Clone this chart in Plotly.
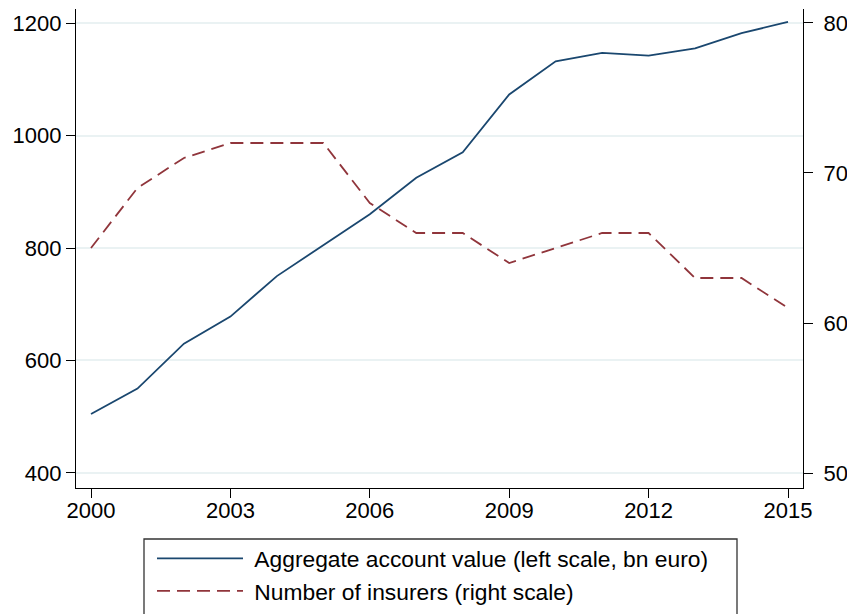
import plotly.graph_objects as go

years = list(range(2000, 2016))
account_value = [505, 550, 630, 678, 750, 805, 860, 925, 970, 1073, 1132, 1147, 1142, 1155, 1182, 1202]
n_insurers = [65, 69, 71, 72, 72, 72, 68, 66, 66, 64, 65, 66, 66, 63, 63, 61]

name_value = "Aggregate account value (left scale, bn euro)"
name_insurers = "Number of insurers (right scale)"

left_ticks = [400, 600, 800, 1000, 1200]
right_ticks = [50, 60, 70, 80]
x_ticks = [2000, 2003, 2006, 2009, 2012, 2015]

W, H = 847, 614
ML, MR, MT, MB = 76, 44, 9, 126
pw = W - ML - MR
ph = H - MT - MB

BLUE = "#1a476f"
RED = "#90353b"
FONT = "Liberation Sans, Arial, Helvetica, sans-serif"

fig = go.Figure()
fig.add_trace(go.Scatter(x=years, y=account_value, mode="lines", name="\u00a0" + name_value,
                         line=dict(color=BLUE, width=1.8), yaxis="y"))
fig.add_trace(go.Scatter(x=years, y=n_insurers, mode="lines", name="\u00a0" + name_insurers,
                         line=dict(color=RED, width=1.8, dash="13px,7px"), yaxis="y2"))

def px_x(p):
    return (p - ML) / pw

def px_y(p):
    return (H - MB - p) / ph

fig.update_layout(
    width=W, height=H,
    margin=dict(l=ML, r=MR, t=MT, b=MB, pad=0, autoexpand=False),
    paper_bgcolor="white", plot_bgcolor="white",
    font=dict(family=FONT, size=22, color="black"),
    showlegend=True,
    legend=dict(
        x=px_x(152), y=px_y(537), xanchor="left", yanchor="top",
        bgcolor="rgba(0,0,0,0)", borderwidth=0,
        font=dict(size=22.8, family=FONT, color="black"),
        itemwidth=86, tracegroupgap=0, traceorder="normal",
    ),
    xaxis=dict(
        range=[2000 - 15 / 46.47, 2015 + 15 / 46.47],
        tickmode="array", tickvals=x_ticks, ticktext=[str(v) for v in x_ticks],
        ticks="outside", ticklen=9, tickwidth=1.2, tickcolor="black",
        ticklabelstandoff=-7,
        showline=True, linecolor="black", linewidth=1.3,
        showgrid=False, zeroline=False,
        tickfont=dict(size=22),
    ),
    yaxis=dict(
        range=[400 - 15 / 0.5617, 1200 + 14 / 0.5617],
        tickmode="array", tickvals=left_ticks, ticktext=[str(v) for v in left_ticks],
        ticks="outside", ticklen=9, tickwidth=1.2, tickcolor="black",
        showline=True, linecolor="black", linewidth=1.3,
        showgrid=True, gridcolor="#eaf2f3", gridwidth=1.5,
        zeroline=False, tickfont=dict(size=22),
    ),
    yaxis2=dict(
        range=[50 - 15 / 15.03, 80 + 14 / 15.03],
        overlaying="y", side="right",
        tickmode="array", tickvals=right_ticks, ticktext=[str(v) for v in right_ticks],
        ticks="outside", ticklen=9, tickwidth=1.2, tickcolor="black",
        ticklabelstandoff=6,
        showline=True, linecolor="black", linewidth=1.3,
        showgrid=False, zeroline=False, tickfont=dict(size=22),
    ),
    shapes=[dict(type="rect", xref="paper", yref="paper",
                 x0=px_x(144), x1=px_x(737), y0=px_y(539), y1=px_y(640),
                 line=dict(color="#333333", width=1.3), fillcolor="rgba(0,0,0,0)", layer="above")],
)

fig.write_html("out.html",
               config={"displayModeBar": False},
               post_script="document.body.style.margin='0px';document.body.style.overflow='hidden';")
